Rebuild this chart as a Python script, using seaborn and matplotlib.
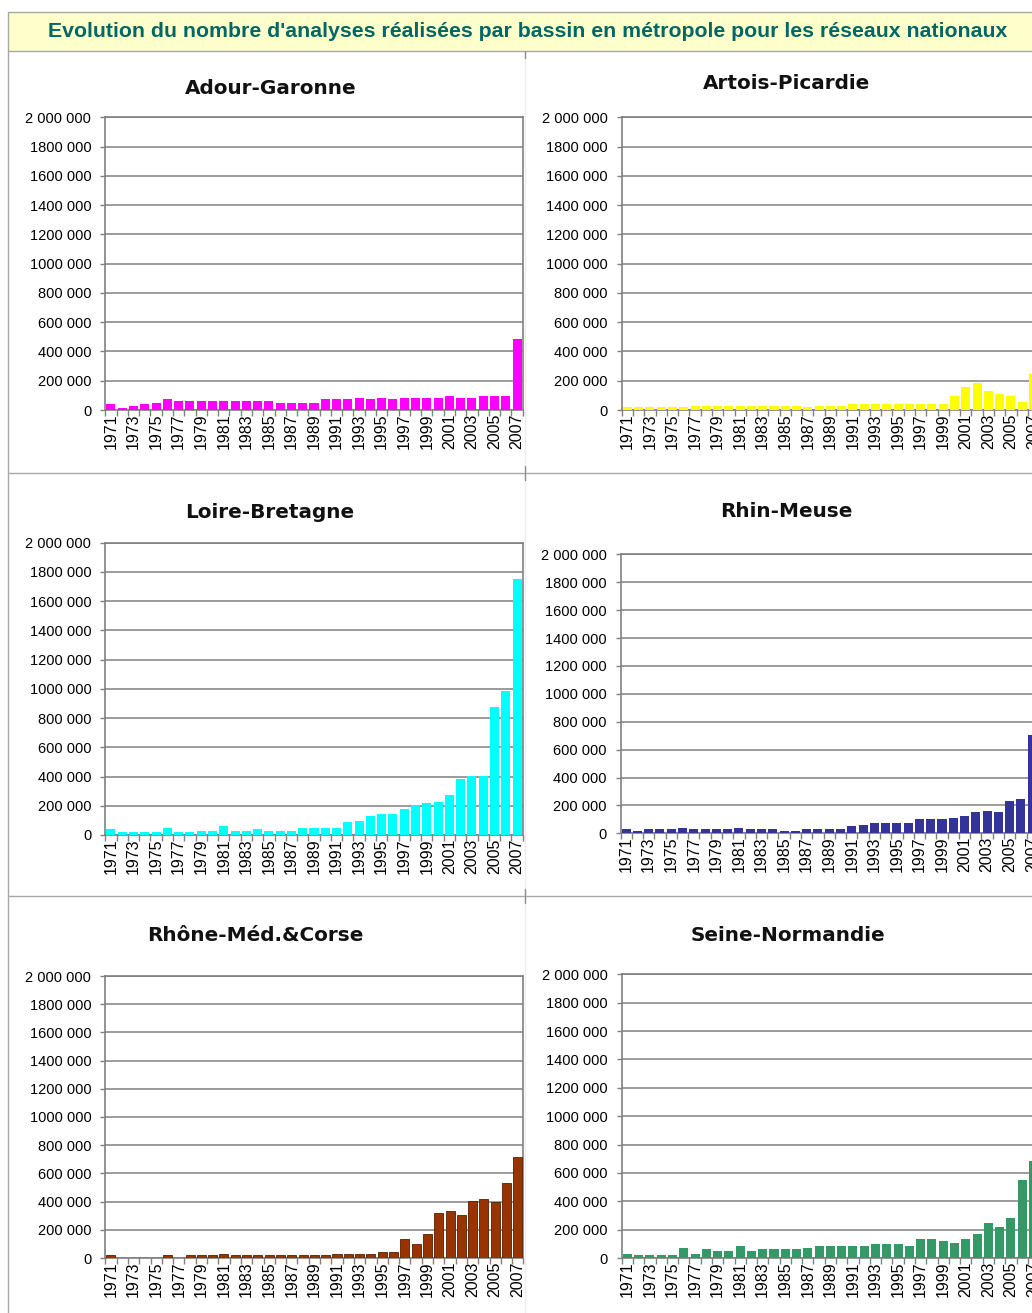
import numpy as np
import pandas as pd
import matplotlib
matplotlib.use("Agg")
import matplotlib.pyplot as plt
import seaborn as sns
from matplotlib.patches import Rectangle
from matplotlib.lines import Line2D

# ---------------- data ----------------
years = [1971, 1972, 1973, 1974, 1975, 1976, 1977, 1978, 1979, 1980,
         1981, 1982, 1983, 1984, 1985, 1986, 1987, 1988, 1989, 1990,
         1991, 1992, 1993, 1994, 1995, 1996, 1997, 1998, 1999, 2000,
         2001, 2002, 2003, 2004, 2005, 2006, 2007]
year_labels = ["1971", "1973", "1975", "1977", "1979", "1981", "1983", "1985",
               "1987", "1989", "1991", "1993", "1995", "1997", "1999", "2001",
               "2003", "2005", "2007"]
ytick_values = [0, 200000, 400000, 600000, 800000, 1000000, 1200000,
                1400000, 1600000, 1800000, 2000000]
ytick_labels = ["0", "200 000", "400 000", "600 000", "800 000", "1000 000",
                "1200 000", "1400 000", "1600 000", "1800 000", "2 000 000"]

header_text = ("Evolution du nombre d'analyses réalisées par bassin en "
               "métropole pour les réseaux nationaux")
basins = ["Adour-Garonne", "Artois-Picardie", "Loire-Bretagne",
          "Rhin-Meuse", "Rhône-Méd.&Corse", "Seine-Normandie"]

adour_garonne = [40000, 16000, 26000, 38000, 50000, 74000, 59000, 59000, 59000, 59000,
                 59000, 59000, 59000, 59000, 59000, 47000, 47000, 47000, 47000, 73000,
                 73000, 73000, 84000, 73000, 84000, 73000, 84000, 84000, 84000, 84000,
                 95000, 84000, 84000, 95000, 95000, 95000, 482000]
artois_picardie = [20000, 20000, 20000, 20000, 20000, 20000, 28000, 28000, 28000, 28000,
                   28000, 28000, 28000, 28000, 28000, 28000, 22000, 28000, 28000, 28000,
                   40000, 40000, 40000, 40000, 40000, 40000, 40000, 40000, 40000, 95000,
                   155000, 186000, 130000, 107000, 95000, 57000, 245000]
loire_bretagne = [40000, 22000, 22000, 20000, 20000, 50000, 22000, 22000, 30000, 30000,
                  61000, 30000, 30000, 40000, 30000, 30000, 30000, 50000, 50000, 50000,
                  50000, 86000, 98000, 132000, 145000, 145000, 180000, 202000, 216000, 227000,
                  275000, 380000, 405000, 405000, 877000, 984000, 1750000]
rhin_meuse = [28000, 16000, 28000, 28000, 28000, 38000, 28000, 28000, 28000, 28000,
              38000, 28000, 28000, 28000, 16000, 16000, 28000, 28000, 28000, 28000,
              50000, 62000, 76000, 76000, 76000, 76000, 100000, 100000, 100000, 112000,
              124000, 150000, 162000, 150000, 234000, 246000, 705000]
rhone_med_corse = [18000, 0, 0, 0, 0, 18000, 0, 18000, 18000, 18000,
                   30000, 18000, 18000, 18000, 18000, 18000, 18000, 18000, 18000, 18000,
                   30000, 30000, 30000, 30000, 42000, 42000, 137000, 102000, 173000, 320000,
                   334000, 308000, 405000, 419000, 398000, 530000, 715000]
seine_normandie = [30000, 18000, 18000, 18000, 18000, 73000, 30000, 61000, 50000, 50000,
                   85000, 50000, 61000, 61000, 61000, 61000, 73000, 85000, 85000, 85000,
                   85000, 85000, 96000, 96000, 96000, 85000, 132000, 132000, 120000, 108000,
                   132000, 167000, 245000, 219000, 280000, 548000, 685000]

series = [adour_garonne, artois_picardie, loire_bretagne,
          rhin_meuse, rhone_med_corse, seine_normandie]
bar_colors = ["#FF00FF", "#FFFF00", "#00FFFF", "#333399", "#993300", "#339966"]
bar_edges = ["none", "none", "none", "none", "#5A1E00", "none"]

# ---------------- layout ----------------
W, H = 1032, 1313
sns.set_style("white")
plt.rcParams["font.family"] = ["Liberation Sans", "DejaVu Sans"]

fig = plt.figure(figsize=(W / 100, H / 100), dpi=100)
fig.patch.set_facecolor("white")


def fx(x):
    return x / W


def fy(y):
    return 1 - y / H


# plot-area boxes in pixels: left, top, right, bottom
boxes = [
    (105.3, 117.3, 522.7, 410.0),
    (621.7, 117.3, 1039.1, 410.0),
    (105.3, 542.7, 522.7, 835.0),
    (620.5, 554.3, 1037.9, 833.3),
    (105.3, 976.0, 523.5, 1258.0),
    (621.7, 974.3, 1039.1, 1258.0),
]
title_pos = [(271, 89), (787, 83.5), (270, 513), (786, 512), (255, 935.5), (788, 935.5)]

renderer = fig.canvas.get_renderer()


def fit_size(text, target_px, **kw):
    probe = fig.text(0, 0, text, fontsize=10, **kw)
    w = probe.get_window_extent(renderer=renderer).width
    probe.remove()
    return 10 * target_px / w


# ---------------- table frame ----------------
line_col = "#A8A8A8"
fig.add_artist(Rectangle((fx(8), fy(50.7)), (1045 - 8) / W, 39 / H,
                         transform=fig.transFigure, facecolor="#FFFFCC",
                         edgecolor=line_col, lw=1.0, zorder=0))
fig.add_artist(Line2D([fx(8), fx(8)], [fy(50.7), fy(1313)],
                      transform=fig.transFigure, color=line_col, lw=1.0, zorder=0))
for yy in (473.3, 896.0):
    fig.add_artist(Line2D([fx(8), fx(1032)], [fy(yy), fy(yy)],
                          transform=fig.transFigure, color=line_col, lw=1.0, zorder=0))
fig.add_artist(Line2D([fx(525), fx(525)], [fy(50.7), fy(1313)],
                      transform=fig.transFigure, color="#EEEEEE", lw=1.0, zorder=0))
for (y0, y1) in ((50.7, 58), (466, 480), (889, 903)):
    fig.add_artist(Line2D([fx(525), fx(525)], [fy(y0), fy(y1)],
                          transform=fig.transFigure, color="#8C8C8C", lw=1.0, zorder=0))

hfs = fit_size(header_text, 959, fontweight="bold")
fig.text(fx(527.5), fy(31.5), header_text, ha="center", va="center",
         fontsize=hfs, fontweight="bold", color="#006666")

title_fs = fit_size("Adour-Garonne", 172, fontweight="bold", family="DejaVu Sans")

label_positions = [years.index(int(y)) for y in year_labels]
grid_col = "#808080"

for i, (name, vals, col) in enumerate(zip(basins, series, bar_colors)):
    l, t, r, b = boxes[i]
    ax = fig.add_axes([fx(l), fy(b), (r - l) / W, (b - t) / H])
    ax.set_facecolor("white")
    df = pd.DataFrame({"year": [str(y) for y in years], "value": vals})
    sns.barplot(data=df, x="year", y="value", order=list(df["year"]), color=col,
                saturation=1, width=0.8, errorbar=None, ax=ax)
    for p in ax.patches:
        p.set_zorder(3)
        if bar_edges[i] != "none":
            p.set_edgecolor(bar_edges[i])
            p.set_linewidth(0.6)
        else:
            p.set_linewidth(0)
    ax.set_xlim(-0.5, len(years) - 0.5)
    ax.set_ylim(ytick_values[0], ytick_values[-1])
    ax.set_xlabel("")
    ax.set_ylabel("")

    ax.set_yticks(ytick_values)
    ax.set_yticklabels(ytick_labels, fontsize=10.5, color="black")
    ax.tick_params(axis="y", length=3.6, width=1.0, color=grid_col, pad=6.5,
                   direction="out", left=True)

    ax.set_xticks(np.arange(-0.5, len(years), 1.0))
    ax.set_xticklabels([])
    ax.set_xticks(label_positions, minor=True)
    ax.set_xticklabels(year_labels, minor=True, rotation=90, fontsize=11.5,
                       ha="center", va="top", color="black")
    ax.tick_params(axis="x", which="major", length=4.5, width=1.0, color=grid_col,
                   direction="out", bottom=True)
    ax.tick_params(axis="x", which="minor", length=0, pad=2.5, bottom=True)

    ax.yaxis.grid(True, color=grid_col, lw=1.1)
    ax.xaxis.grid(False)
    ax.set_axisbelow(True)
    for sp in ax.spines.values():
        sp.set_visible(True)
        sp.set_color(grid_col)
        sp.set_linewidth(1.2)
        sp.set_zorder(2.5)

    tx, ty = title_pos[i]
    fig.text(fx(tx), fy(ty), name, ha="center", va="center", fontsize=title_fs,
             fontweight="bold", family="DejaVu Sans", color="#111111")

fig.savefig("out.png", dpi=100)
